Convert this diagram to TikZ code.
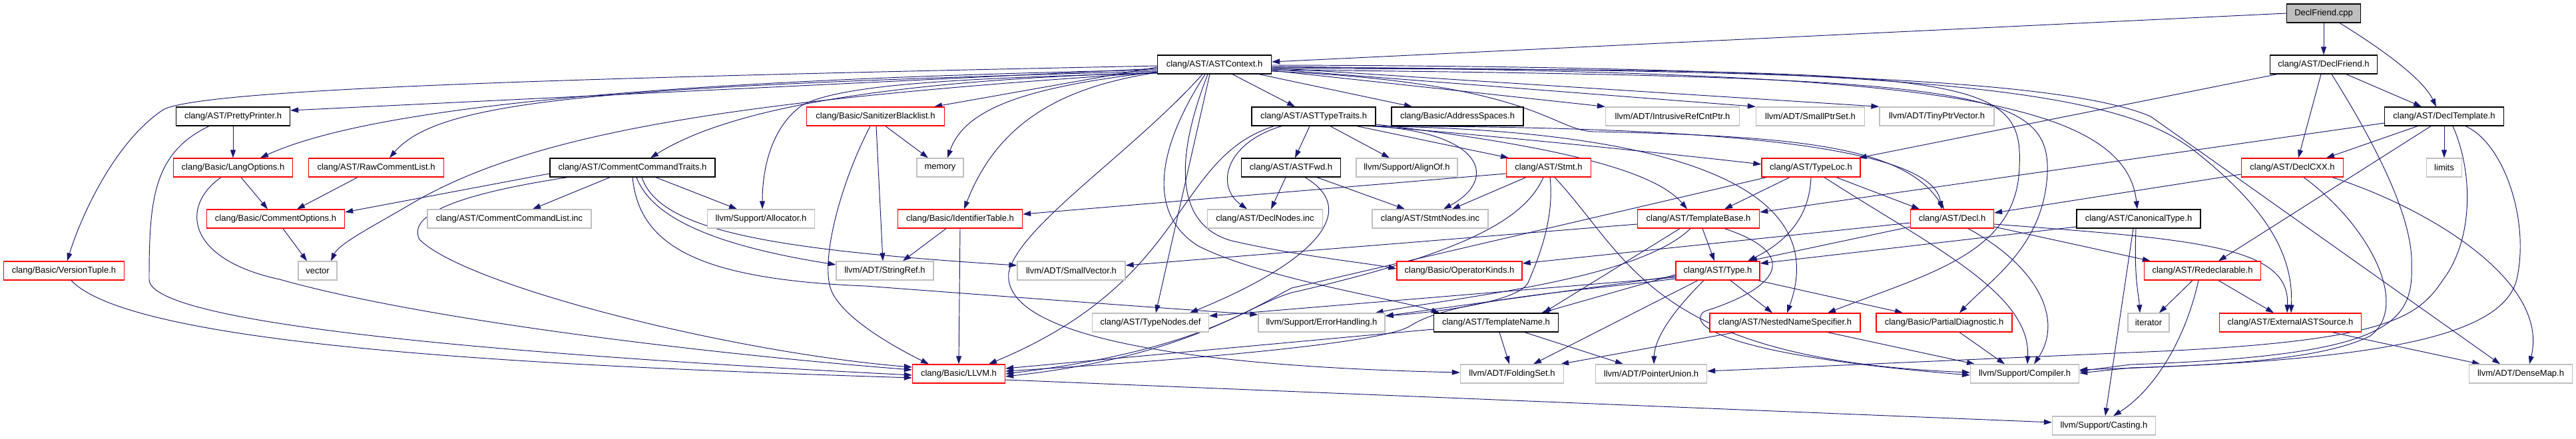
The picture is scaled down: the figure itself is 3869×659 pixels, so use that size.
\documentclass[tikz,border=0pt]{standalone}
\usepackage{fontspec}
\setmainfont{Liberation Sans}
\usetikzlibrary{arrows.meta}
\pgfdeclarelayer{bg}
\pgfsetlayers{bg,main}
\definecolor{edgec}{HTML}{191970}
\definecolor{redc}{HTML}{FF0000}
\definecolor{grayc}{HTML}{BFBFBF}
\newcommand{\fsz}{\fontsize{13}{15}\selectfont}
\begin{document}
\begin{tikzpicture}[x=1pt,y=-1pt,
  nb/.style={draw=#1, line width=1.3pt, fill=white, minimum height=28pt, inner sep=0pt, font=\fsz, text=black},
  blkbox/.style={nb=black, minimum width=#1},
  redbox/.style={nb=redc, minimum width=#1},
  grybox/.style={nb=grayc, minimum width=#1},
  dep/.style={color=edgec, line width=0.95pt, -{Triangle[length=12pt,width=8pt]}}]
\useasboundingbox (0,0) rectangle (3869,659);
% row 1
\node[blkbox=111, fill=grayc] (cpp) at (3490,20) {DeclFriend.cpp};
% row 2
\node[blkbox=171] (ctx) at (1824,97) {clang/AST/ASTContext.h};
\node[blkbox=161] (dfh) at (3490,97) {clang/AST/DeclFriend.h};
% row 3
\node[blkbox=171] (pp) at (350,175) {clang/AST/PrettyPrinter.h};
\node[redbox=207] (sb) at (1315,175) {clang/Basic/SanitizerBlacklist.h};
\node[blkbox=186] (att) at (1973,175) {clang/AST/ASTTypeTraits.h};
\node[blkbox=198] (as) at (2189,175) {clang/Basic/AddressSpaces.h};
\node[grybox=201] (irc) at (2512,175) {llvm/ADT/IntrusiveRefCntPtr.h};
\node[grybox=163] (sps) at (2719,175) {llvm/ADT/SmallPtrSet.h};
\node[grybox=172] (tpv) at (2909,175) {llvm/ADT/TinyPtrVector.h};
\node[blkbox=179] (dt) at (3671,175) {clang/AST/DeclTemplate.h};
% row 4
\node[redbox=179] (lo) at (350,252) {clang/Basic/LangOptions.h};
\node[redbox=203] (rcl) at (565,252) {clang/AST/RawCommentList.h};
\node[blkbox=248] (cct) at (950,252) {clang/AST/CommentCommandTraits.h};
\node[grybox=70] (mem) at (1412,252) {memory};
\node[blkbox=149] (fwd) at (1939,252) {clang/AST/ASTFwd.h};
\node[grybox=152] (ao) at (2113,252) {llvm/Support/AlignOf.h};
\node[redbox=127] (stmt) at (2326,252) {clang/AST/Stmt.h};
\node[redbox=148] (tl) at (2720,252) {clang/AST/TypeLoc.h};
\node[redbox=153] (cxx) at (3443,252) {clang/AST/DeclCXX.h};
\node[grybox=53] (lim) at (3671,252) {limits};
% row 5
\node[redbox=207] (co) at (414,329) {clang/Basic/CommentOptions.h};
\node[grybox=246] (ccl) at (765,329) {clang/AST/CommentCommandList.inc};
\node[grybox=161] (alloc) at (1143,329) {llvm/Support/Allocator.h};
\node[redbox=187] (it) at (1442,329) {clang/Basic/IdentifierTable.h};
\node[grybox=173] (dn) at (1900,329) {clang/AST/DeclNodes.inc};
\node[grybox=174] (sn) at (2148,329) {clang/AST/StmtNodes.inc};
\node[redbox=183] (tb) at (2551,329) {clang/AST/TemplateBase.h};
\node[redbox=125] (decl) at (2932,329) {clang/AST/Decl.h};
\node[blkbox=186] (ct) at (3212,329) {clang/AST/CanonicalType.h};
% row 6
\node[redbox=181] (vt) at (96,407) {clang/Basic/VersionTuple.h};
\node[grybox=58] (vec) at (477,407) {vector};
\node[grybox=146] (sr) at (1329,407) {llvm/ADT/StringRef.h};
\node[grybox=162] (sv) at (1609,407) {llvm/ADT/SmallVector.h};
\node[redbox=188] (ok) at (2192,407) {clang/Basic/OperatorKinds.h};
\node[redbox=126] (ty) at (2580,407) {clang/AST/Type.h};
\node[redbox=175] (rd) at (3308,407) {clang/AST/Redeclarable.h};
% row 7
\node[grybox=175] (tnd) at (1728,485) {clang/AST/TypeNodes.def};
\node[grybox=190] (eh) at (1985,485) {llvm/Support/ErrorHandling.h};
\node[blkbox=187] (tn) at (2247,485) {clang/AST/TemplateName.h};
\node[redbox=226] (nns) at (2681,485) {clang/AST/NestedNameSpecifier.h};
\node[redbox=204] (pd) at (2920,485) {clang/Basic/PartialDiagnostic.h};
\node[grybox=62] (iter) at (3227,485) {iterator};
\node[redbox=213] (eas) at (3440,485) {clang/AST/ExternalASTSource.h};
% row 8
\node[redbox=139] (llvm) at (1440,562) {clang/Basic/LLVM.h};
\node[grybox=155] (fs) at (2271,562) {llvm/ADT/FoldingSet.h};
\node[grybox=167] (pu) at (2480,562) {llvm/ADT/PointerUnion.h};
\node[grybox=163] (comp) at (3041,562) {llvm/Support/Compiler.h};
\node[grybox=155] (dm) at (3786,562) {llvm/ADT/DenseMap.h};
% row 9
\node[grybox=155] (cast) at (3160,640) {llvm/Support/Casting.h};

\begin{pgfonlayer}{bg}
\fill[white] (0,0) rectangle (3869,659);
% DeclFriend.cpp
\draw[dep] (cpp.west) -- ([yshift=4pt]ctx.east);
\draw[dep] (cpp.south) -- (dfh.north);
\draw[dep] ([xshift=24pt]cpp.south) .. controls (3580,75) and (3640,120) .. ([xshift=-12pt]dt.north);
% DeclFriend.h
\draw[dep] ([xshift=-70pt]dfh.south) -- ([xshift=-3pt]tl.north east);
\draw[dep] ([xshift=-4pt]dfh.south) -- ([xshift=9pt]cxx.north);
\draw[dep] ([xshift=34pt]dfh.south) -- ([xshift=-34pt]dt.north);
\draw[dep] ([xshift=12pt]dfh.south) .. controls (3570,220) and (3625,330) .. (3622,400) .. controls (3625,490) and (3580,535) .. (3200,548) -- ([yshift=4pt]comp.east);
% DeclTemplate.h
\draw[dep] ([yshift=-10pt]dt.west) -- ([yshift=10pt]tb.east);
\draw[dep] ([xshift=-40pt]dt.south) -- ([xshift=51pt]cxx.north);
\draw[dep] ([xshift=-20pt]dt.south) -- ([xshift=24pt]rd.north);
\draw[dep] (dt.south) -- (lim.north);
\draw[dep] ([xshift=13pt]dt.south) .. controls (3715,260) and (3715,360) .. (3669,421) .. controls (3630,480) and (3580,515) .. (3200,530) -- ([yshift=4pt]pu.east);
\draw[dep] ([xshift=32pt]dt.south) .. controls (3760,215) and (3800,330) .. (3780,420) .. controls (3760,500) and (3600,540) .. (3200,553) -- ([yshift=1pt]comp.east);
% DeclCXX.h
\draw[dep] ([yshift=-10pt]cxx.west) -- ([yshift=9pt]decl.east);
\draw[dep] ([xshift=60pt]cxx.south) .. controls (3640,310) and (3830,420) .. ([xshift=13pt]dm.north);
\draw[dep] ([xshift=17pt]cxx.south) .. controls (3560,340) and (3620,460) .. (3560,505) .. controls (3480,545) and (3300,550) .. ([yshift=6pt]comp.east);
% Redeclarable.h
\draw[dep] ([xshift=-15pt]rd.south) -- ([xshift=16pt]iter.north);
\draw[dep] ([xshift=24pt]rd.south) -- ([xshift=-25pt]eas.north);
\draw[dep] ([xshift=-6pt]rd.south) .. controls (3280,520) and (3230,590) .. ([xshift=14pt]cast.north);
% CanonicalType.h
\draw[dep] ([yshift=-12pt]ct.west) -- ([yshift=11pt]ty.east);
\draw[dep] ([xshift=-4pt]ct.south) .. controls (3205,420) and (3212,440) .. ([xshift=-13pt]iter.north);
\draw[dep] ([xshift=-8pt]ct.south) -- ([xshift=2pt]cast.north);
% ExternalASTSource.h
\draw[dep] ([xshift=63pt]eas.south) -- ([xshift=-61pt]dm.north);
% Decl.h
\draw[dep] ([yshift=-8pt]decl.east) .. controls (3300,360) and (3440,370) .. ([xshift=-5pt]eas.north);
\draw[dep] ([yshift=-12pt]decl.east) -- ([xshift=10pt]rd.north west);
\draw[dep] ([xshift=24pt]decl.south) .. controls (3060,400) and (3100,480) .. ([xshift=14pt]comp.north);
\draw[dep] ([yshift=-12pt]decl.west) -- ([xshift=47pt]ty.north);
\draw[dep] ([yshift=-6pt]decl.west) -- ([yshift=11pt]ok.east);
% TypeLoc.h
\draw[dep] ([xshift=-32pt]tl.south) -- ([xshift=39pt]tb.north);
\draw[dep] (tl.south) .. controls (2718,320) and (2690,360) .. ([xshift=45pt]ty.north);
\draw[dep] ([xshift=38pt]tl.south) -- ([xshift=-49pt]decl.north);
\draw[dep] ([xshift=20pt]tl.south) .. controls (2900,370) and (3050,440) .. ([xshift=4pt]comp.north);
\draw[dep] ([xshift=-67pt]tl.south) -- (1940,433) .. controls (1870,470) and (1780,530) .. (llvm.east);
% TemplateBase.h
\draw[dep] ([yshift=-8pt]tb.west) -- ([yshift=8pt]sv.east);
\draw[dep] ([xshift=-28pt]tb.south) -- ([xshift=71pt]tn.north);
\draw[dep] ([xshift=-12pt]tb.south) .. controls (2460,420) and (2200,445) .. ([xshift=-15pt]eh.north east);
\draw[dep] ([xshift=6pt]tb.south) -- ([xshift=-5pt]ty.north);
\draw[dep] ([xshift=39pt]tb.south) .. controls (2700,380) and (2680,430) .. (2560,468) .. controls (2530,490) and (2600,535) .. ([yshift=-2pt]comp.west);
% Type.h
\draw[dep] ([xshift=19pt]ty.south) -- ([xshift=-19pt]nns.north);
\draw[dep] ([xshift=60pt]ty.south) -- ([xshift=-62pt]pd.north);
\draw[dep] ([xshift=-30pt]ty.south) -- ([xshift=32pt]fs.north);
\draw[dep] ([xshift=-21pt]ty.south) .. controls (2510,470) and (2485,510) .. ([xshift=4pt]pu.north);
\draw[dep] ([yshift=-6pt]ty.west) -- ([xshift=68pt]tn.north);
\draw[dep] ([yshift=-8pt]ty.west) -- ([yshift=10pt]eh.east);
\draw[dep] ([yshift=-10pt]ty.west) -- ([yshift=10pt]tnd.east);
\draw[dep] ([yshift=-12pt]ty.west) .. controls (2350,440) and (2180,450) .. (2118,490) .. controls (2080,515) and (1800,540) .. ([yshift=4pt]llvm.east);
% NestedNameSpecifier.h, PartialDiagnostic.h
\draw[dep] ([xshift=-75pt]nns.south) -- ([xshift=-5pt]fs.north east);
\draw[dep] ([xshift=64pt]nns.south) -- ([xshift=-75pt]comp.north);
\draw[dep] ([xshift=23pt]pd.south) -- ([xshift=-30pt]comp.north);
% TemplateName.h
\draw[dep] ([xshift=5pt]tn.south) -- ([xshift=-4pt]fs.north);
\draw[dep] ([xshift=43pt]tn.south) -- ([xshift=-42pt]pu.north);
\draw[dep] ([yshift=-10pt]tn.west) -- ([yshift=8pt]llvm.east);
% Stmt.h
\draw[dep] ([xshift=-34pt]stmt.south) -- ([xshift=33pt]sn.north);
\draw[dep] ([yshift=-9pt]stmt.west) -- ([yshift=7pt]it.east);
\draw[dep] ([xshift=-8pt]stmt.south) .. controls (2290,330) and (2200,380) .. (1940,440) .. controls (1870,460) and (1790,535) .. ([yshift=-4pt]llvm.east);
\draw[dep] ([xshift=2pt]stmt.south) .. controls (2335,330) and (2310,390) .. (2295,425) .. controls (2280,455) and (2150,470) .. ([yshift=10pt]eh.east);
\draw[dep] ([xshift=9pt]stmt.south) .. controls (2450,390) and (2480,540) .. ([yshift=2pt]comp.west);
% ASTTypeTraits.h
\draw[dep] ([xshift=-6pt]att.south) -- ([xshift=6pt]fwd.north);
\draw[dep] ([xshift=25pt]att.south) -- ([xshift=-26pt]ao.north);
\draw[dep] ([xshift=65pt]att.south) -- ([xshift=-60pt]stmt.north);
\draw[dep] ([xshift=90pt]att.south) .. controls (2230,200) and (2250,270) .. ([xshift=20pt]sn.north);
\draw[dep] ([xshift=-48pt]att.south) .. controls (1840,215) and (1825,280) .. ([xshift=-27pt]dn.north);
\draw[dep] ([xshift=-60pt]att.south) .. controls (1760,240) and (1790,420) .. ([xshift=45pt]llvm.north);
\draw[dep] ([xshift=80pt]att.south) .. controls (2400,190) and (2900,200) .. ([xshift=-16pt]decl.north);
\draw[dep] ([xshift=88pt]att.south) .. controls (2200,200) and (2500,230) .. ([yshift=5pt]tl.west);
\draw[dep] ([yshift=-12pt]att.east) .. controls (2300,215) and (2480,250) .. ([xshift=-17pt]tb.north);
\draw[dep] ([xshift=92pt]att.south) .. controls (2450,195) and (2760,260) .. ([xshift=3pt]nns.north);
% ASTFwd.h
\draw[dep] ([xshift=-8pt]fwd.south) -- ([xshift=9pt]dn.north);
\draw[dep] ([xshift=39pt]fwd.south) -- ([xshift=-38pt]sn.north);
\draw[dep] ([xshift=21pt]fwd.south) .. controls (2050,320) and (1960,400) .. ([xshift=59pt]tnd.north);
% ASTContext.h
\draw[dep] ([yshift=-6pt]ctx.west) -- ([yshift=9pt]pp.east);
\draw[dep] ([yshift=-8pt]ctx.west) .. controls (1000,120) and (560,160) .. ([xshift=41pt]lo.north);
\draw[dep] ([yshift=-10pt]ctx.west) .. controls (900,130) and (660,150) .. ([xshift=20pt]rcl.north);
\draw[dep] ([yshift=-2pt]ctx.west) .. controls (800,118) and (300,135) .. (245,165) .. controls (170,215) and (120,330) .. ([xshift=5pt]vt.north);
\draw[dep] ([yshift=-12pt]ctx.west) .. controls (1100,150) and (800,200) .. (620,305) .. controls (570,335) and (510,365) .. ([xshift=20pt]vec.north);
\draw[dep] ([yshift=-12pt]ctx.west) .. controls (1350,120) and (1100,160) .. ([xshift=27pt]cct.north);
\draw[dep] ([yshift=-13pt]ctx.west) .. controls (1400,118) and (1260,130) .. (1205,158) .. controls (1160,190) and (1145,250) .. ([xshift=2pt]alloc.north);
\draw[dep] ([yshift=-4pt]ctx.west) -- ([xshift=88pt]sb.north);
\draw[dep] ([yshift=-11pt]ctx.west) .. controls (1550,130) and (1450,160) .. ([xshift=11pt]mem.north);
\draw[dep] ([yshift=-12pt]ctx.west) .. controls (1600,130) and (1500,180) .. ([xshift=6pt]it.north);
\draw[dep] ([xshift=-7pt]ctx.south) -- ([xshift=8pt]tnd.north);
\draw[dep] ([xshift=-18pt]ctx.south) .. controls (1700,230) and (1530,340) .. (1515,410) .. controls (1505,500) and (1750,550) .. ([yshift=2pt]fs.west);
\draw[dep] ([xshift=-14pt]ctx.south) .. controls (1740,220) and (1720,320) .. (1800,370) .. controls (1900,420) and (2100,450) .. ([xshift=-85pt]tn.north);
\draw[dep] ([xshift=-10pt]ctx.south) .. controls (1760,250) and (1770,340) .. (1850,362) .. controls (1950,385) and (2050,395) .. ([yshift=3pt]ok.west);
\draw[dep] ([xshift=27pt]ctx.south) -- ([xshift=-28pt]att.north);
\draw[dep] ([xshift=67pt]ctx.south) -- ([xshift=-68pt]as.north);
\draw[dep] ([yshift=-9pt]ctx.east) -- (irc.north west);
\draw[dep] ([yshift=-7pt]ctx.east) -- (sps.north west);
\draw[dep] ([yshift=-5pt]ctx.east) -- (tpv.north west);
\draw[dep] ([yshift=-10pt]ctx.east) .. controls (2320,125) and (2330,200) .. (2400,198) .. controls (2700,205) and (2860,220) .. ([xshift=-12pt]decl.north);
\draw[dep] ([yshift=-3pt]ctx.east) .. controls (2800,110) and (3190,130) .. ([xshift=-2pt]ct.north);
\draw[dep] ([yshift=-6pt]ctx.east) .. controls (2950,105) and (3040,110) .. (3033,250) .. controls (3030,380) and (2900,410) .. ([xshift=64pt]nns.north);
\draw[dep] ([yshift=-8pt]ctx.east) .. controls (2950,115) and (3080,130) .. (3075,260) .. controls (3070,370) and (2990,420) .. ([xshift=23pt]pd.north);
\draw[dep] ([yshift=-1pt]ctx.east) .. controls (3000,100) and (3200,150) .. (3300,230) .. controls (3400,310) and (3445,380) .. ([xshift=1pt]eas.north);
\draw[dep] ([yshift=-4pt]ctx.east) .. controls (2700,105) and (3100,120) .. (3230,175) -- ([xshift=-31pt]dm.north);
% PrettyPrinter.h
\draw[dep] (pp.south) -- (lo.north);
\draw[dep] ([xshift=-36pt]pp.south) .. controls (230,230) and (224,300) .. (224,420) .. controls (224,490) and (800,535) .. ([yshift=-2pt]llvm.west);
% LangOptions.h
\draw[dep] ([xshift=12pt]lo.south) -- ([xshift=-12pt]co.north);
\draw[dep] ([xshift=-18pt]lo.south) .. controls (270,310) and (280,390) .. (420,420) .. controls (650,485) and (1100,535) .. ([yshift=6pt]llvm.west);
% RawCommentList.h
\draw[dep] ([xshift=-28pt]rcl.south) -- ([xshift=32pt]co.north);
% CommentCommandTraits.h
\draw[dep] ([yshift=-9pt]cct.west) -- ([yshift=10pt]co.east);
\draw[dep] ([xshift=-34pt]cct.south) -- ([xshift=35pt]ccl.north);
\draw[dep] ([xshift=35pt]cct.south) -- ([xshift=-36pt]alloc.north);
\draw[dep] ([xshift=6pt]cct.south) .. controls (980,330) and (1080,370) .. ([yshift=9pt]sr.west);
\draw[dep] ([xshift=14pt]cct.south) .. controls (990,345) and (1150,375) .. ([yshift=8pt]sv.west);
\draw[dep] (cct.south) .. controls (960,370) and (1050,420) .. (1300,430) .. controls (1500,445) and (1700,460) .. ([yshift=12pt]eh.west);
\draw[dep] ([xshift=-98pt]cct.south) .. controls (700,290) and (610,320) .. (630,360) .. controls (700,430) and (1100,530) .. ([yshift=10pt]llvm.west);
% VersionTuple.h
\draw[dep] ([xshift=11pt]vt.south) .. controls (200,520) and (800,550) .. ([yshift=-6pt]llvm.west);
% SanitizerBlacklist.h
\draw[dep] ([xshift=15pt]sb.south) -- ([xshift=-18pt]mem.north);
\draw[dep] ([xshift=1pt]sb.south) -- ([xshift=-3pt]sr.north);
\draw[dep] ([xshift=-8pt]sb.south) .. controls (1260,280) and (1230,400) .. (1250,440) .. controls (1270,480) and (1340,520) .. ([xshift=-45pt]llvm.north);
% IdentifierTable.h
\draw[dep] ([xshift=-21pt]it.south) -- ([xshift=27pt]sr.north);
\draw[dep] (it.south) -- (llvm.north);
% LLVM.h
\draw[dep] ([yshift=-9pt]llvm.east) -- ([yshift=5pt]cast.west);
% CommentOptions.h
\draw[dep] ([xshift=11pt]co.south) -- ([xshift=-16pt]vec.north);
\end{pgfonlayer}
\end{tikzpicture}
\end{document}
